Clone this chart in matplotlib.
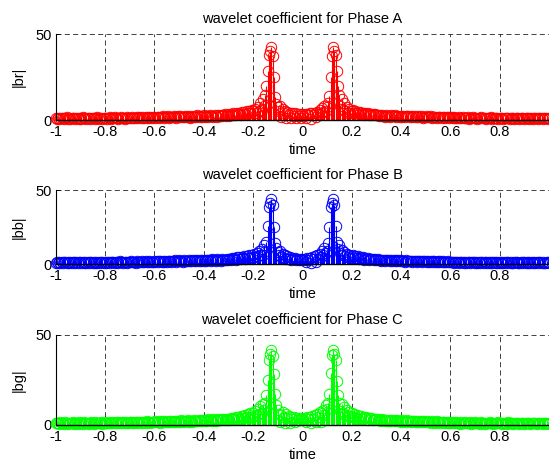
import numpy as np
import matplotlib
matplotlib.use("Agg")
import matplotlib.pyplot as plt

plt.rcParams["font.family"] = ["Liberation Sans", "DejaVu Sans"]
plt.rcParams["font.size"] = 10.5

# |coefficient| magnitudes, 401 samples over time -1 .. 1
mag_a = [
    1.3, 0.8, 1.1, 0.6, 1.4, 0.9, 1.2, 0.7, 1.0, 1.5, 0.8, 1.1, 0.6, 1.3, 0.9, 1.2, 0.7, 1.4, 1.0, 0.8,
    1.2, 0.6, 1.5, 0.9, 1.1, 0.7, 1.3, 1.0, 0.8, 1.4, 0.9, 1.2, 0.6, 1.1, 1.5, 0.8, 1.0, 1.3, 0.7, 1.2,
    0.9, 1.4, 0.8, 1.1, 1.6, 0.7, 1.2, 1.0, 1.5, 0.9, 1.3, 0.8, 1.1, 1.6, 1.0, 1.4, 0.8, 1.2, 1.7, 0.9,
    1.3, 1.1, 1.6, 0.9, 1.4, 1.2, 1.8, 1.0, 1.5, 1.2, 1.7, 1.0, 1.4, 1.9, 1.1, 1.6, 1.3, 1.8, 1.1, 1.5,
    1.9, 1.2, 1.7, 2.0, 1.3, 1.8, 1.5, 2.1, 1.2, 1.9, 1.6, 2.2, 1.4, 1.8, 2.0, 1.5, 2.3, 1.7, 1.3, 2.1,
    1.8, 2.4, 1.5, 2.0, 1.7, 2.5, 1.6, 2.2, 1.9, 1.4, 2.6, 2.0, 1.7, 2.3, 1.8, 2.7, 2.1, 1.6, 2.4, 2.0,
    2.8, 1.9, 2.5, 2.2, 1.7, 2.9, 2.3, 2.6, 2.0, 3.0, 2.4, 1.8, 2.8, 2.5, 3.1, 2.2, 2.7, 3.2, 2.4, 2.9,
    3.3, 2.6, 3.5, 2.9, 3.8, 3.1, 2.7, 4.0, 3.4, 4.2, 3.0, 4.5, 3.7, 4.8, 3.3, 5.0, 4.1, 5.4, 3.8, 5.8,
    5.5, 3.8, 6.5, 4.2, 7.5, 5.0, 9.8, 6.0, 12.5, 8.0, 14.8, 20.0, 28.7, 38.0, 40.3, 42.6, 37.2, 25.2, 13.5, 9.5,
    7.5, 5.2, 8.2, 1.5, 6.5, 3.8, 5.5, 1.2, 4.8, 2.9, 4.2, 0.9, 4.0, 2.6, 3.8, 1.1, 3.6, 2.5, 3.5, 1.4,
    3.4,
    2.6, 3.6, 1.2, 3.7, 2.9, 3.9, 0.8, 4.1, 3.1, 4.3, 1.5, 4.9, 3.3, 5.6, 3.9, 6.7, 4.6, 8.3, 5.4, 7.7,
    9.6, 13.8, 25.0, 37.5, 42.4, 40.0, 37.8, 28.2, 19.5, 14.5, 8.2, 12.2, 6.1, 9.6, 5.1, 7.3, 4.3, 6.4, 3.9, 5.4,
    5.6, 3.9, 5.2, 4.0, 4.7, 3.4, 4.6, 3.6, 4.3, 3.1, 4.1, 3.3, 3.9, 2.8, 3.6, 3.0, 3.7, 2.7, 3.4, 3.1,
    2.8, 2.4, 3.0, 2.2, 2.7, 2.5, 1.9, 2.9, 2.3, 2.6, 1.8, 2.8, 2.1, 2.4, 2.7, 1.9, 2.5, 2.2, 1.7, 2.6,
    2.0, 2.4, 1.6, 2.3, 2.1, 2.5, 1.7, 2.2, 1.9, 2.4, 1.5, 2.1, 2.0, 1.6, 2.3, 1.8, 2.1, 1.4, 2.0, 1.9,
    2.2, 1.5, 1.8, 2.1, 1.3, 1.9, 1.7, 2.0, 1.4, 1.8, 1.6, 2.0, 1.2, 1.7, 1.9, 1.3, 1.6, 1.8, 1.1, 1.7,
    1.5, 1.0, 1.7, 1.2, 1.4, 0.9, 1.6, 1.1, 1.3, 1.5, 0.9, 1.4, 1.2, 1.6, 0.8, 1.3, 1.1, 1.5, 1.0, 1.2,
    1.4, 0.8, 1.3, 1.0, 1.5, 0.9, 1.2, 1.4, 0.7, 1.1, 1.3, 1.0, 1.5, 0.8, 1.2, 0.9, 1.4, 1.1, 0.7, 1.3,
    1.0, 1.2, 0.8, 1.4, 0.9, 1.1, 1.3, 0.7, 1.2, 1.0, 1.4, 0.8, 1.1, 0.9, 1.3, 0.6, 1.2, 1.0, 1.4, 0.8,
    1.1, 0.9, 1.3, 0.7, 1.2, 1.0, 0.8, 1.3, 0.9, 1.1, 0.6, 1.2, 1.0, 1.4, 0.8, 1.1, 0.9, 1.2, 0.7, 1.3,
]

mag_b = [
    1.0, 1.4, 0.7, 1.2, 0.9, 1.5, 0.8, 1.1, 1.3, 0.6, 1.2, 1.0, 1.4, 0.7, 1.1, 1.5, 0.9, 1.2, 0.8, 1.3,
    1.1, 0.7, 1.4, 1.0, 1.2, 0.8, 1.5, 0.9, 1.3, 1.1, 0.7, 1.4, 1.0, 1.2, 0.9, 1.6, 0.8, 1.1, 1.3, 1.0,
    1.5, 0.9, 1.2, 1.4, 0.8, 1.6, 1.1, 1.3, 0.9, 1.5, 1.2, 1.0, 1.7, 1.1, 1.4, 0.9, 1.6, 1.2, 1.0, 1.5,
    1.3, 1.8, 1.1, 1.4, 1.6, 1.0, 1.7, 1.3, 1.5, 1.1, 1.9, 1.4, 1.2, 1.7, 1.5, 1.1, 1.8, 1.4, 1.6, 1.2,
    2.0, 1.5, 1.8, 1.3, 2.1, 1.7, 1.4, 2.2, 1.6, 1.9, 1.4, 2.3, 1.8, 2.0, 1.5, 2.2, 1.7, 2.4, 1.6, 1.9,
    2.5, 1.8, 2.1, 1.6, 2.6, 2.0, 2.3, 1.7, 2.5, 2.1, 1.8, 2.7, 2.2, 2.4, 1.9, 2.8, 2.1, 2.5, 2.0, 2.9,
    2.3, 2.6, 2.0, 3.0, 2.4, 2.7, 2.1, 3.1, 2.5, 2.8, 2.2, 3.2, 2.6, 2.9, 2.3, 3.3, 2.7, 3.0, 2.5, 3.4,
    2.8, 3.6, 3.0, 3.9, 3.2, 4.1, 2.9, 4.4, 3.5, 4.6, 3.3, 4.9, 3.8, 5.2, 3.6, 5.5, 4.2, 5.9, 4.0, 6.3,
    5.0, 6.8, 4.5, 7.6, 5.3, 8.5, 5.8, 10.2, 6.4, 12.8, 8.7, 14.6, 25.5, 38.5, 41.2, 44.0, 39.8, 25.2, 14.2, 10.5,
    8.0, 6.2, 8.8, 4.9, 6.9, 4.1, 5.8, 3.5, 5.1, 3.1, 4.6, 2.7, 4.2, 3.3, 3.9, 2.6, 3.7, 2.9, 3.5, 2.4,
    3.2,
    2.5, 3.6, 1.3, 3.8, 2.8, 4.3, 1.0, 4.7, 3.2, 5.2, 1.6, 5.9, 3.6, 7.0, 4.4, 8.6, 5.9, 10.8, 7.2, 9.0,
    14.0, 24.8, 38.2, 41.0, 43.8, 40.2, 26.0, 14.8, 10.2, 13.0, 7.4, 9.6, 6.0, 8.0, 5.2, 6.9, 4.6, 6.2, 4.1, 5.5,
    6.0, 3.9, 5.6, 4.2, 5.1, 3.5, 4.8, 3.8, 4.4, 3.0, 4.2, 3.4, 3.9, 2.7, 3.7, 3.1, 3.5, 2.6, 3.4, 2.9,
    3.2, 2.5, 2.9, 2.2, 3.0, 2.6, 2.0, 2.8, 2.4, 2.7, 1.9, 2.6, 2.3, 2.5, 1.8, 2.7, 2.2, 2.4, 1.7, 2.5,
    2.1, 2.3, 1.6, 2.4, 2.0, 2.2, 1.8, 2.3, 1.5, 2.1, 1.9, 2.2, 1.6, 2.0, 1.8, 2.1, 1.4, 1.9, 1.7, 2.0,
    1.5, 1.8, 1.6, 1.9, 1.3, 1.7, 1.8, 1.4, 1.6, 1.9, 1.2, 1.7, 1.5, 1.8, 1.3, 1.6, 1.4, 1.7, 1.2, 1.5,
    1.2, 1.6, 0.9, 1.4, 1.1, 1.5, 0.8, 1.3, 1.2, 1.6, 1.0, 1.4, 0.9, 1.2, 1.5, 0.8, 1.3, 1.1, 1.4, 0.9,
    1.2, 1.0, 1.5, 0.8, 1.3, 1.1, 0.9, 1.4, 1.2, 0.7, 1.3, 1.0, 1.2, 0.8, 1.4, 1.1, 0.9, 1.3, 1.0, 1.2,
    0.8, 1.4, 1.0, 1.1, 0.7, 1.3, 1.2, 0.9, 1.4, 1.0, 0.8, 1.2, 1.1, 1.3, 0.7, 1.0, 1.2, 0.9, 1.3, 1.1,
    0.8, 1.2, 1.0, 1.4, 0.9, 1.1, 0.7, 1.3, 1.0, 1.2, 0.8, 1.1, 1.3, 0.9, 1.2, 1.0, 0.7, 1.1, 1.2, 1.0,
]

mag_c = [
    0.9, 1.3, 1.1, 0.7, 1.5, 1.0, 1.2, 0.8, 1.4, 1.1, 0.6, 1.3, 0.9, 1.2, 1.5, 0.8, 1.1, 1.3, 0.7, 1.4,
    1.0, 1.2, 0.8, 1.5, 1.1, 0.9, 1.3, 0.7, 1.2, 1.4, 1.0, 0.8, 1.6, 1.1, 1.3, 0.9, 1.2, 1.5, 0.8, 1.4,
    1.1, 1.3, 0.9, 1.6, 1.2, 1.0, 1.5, 0.9, 1.3, 1.7, 1.1, 1.4, 1.0, 1.6, 1.2, 1.5, 0.9, 1.8, 1.3, 1.1,
    1.6, 1.4, 1.0, 1.7, 1.3, 1.5, 1.9, 1.2, 1.6, 1.4, 1.1, 1.8, 1.5, 1.3, 2.0, 1.4, 1.7, 1.2, 1.9, 1.6,
    1.4, 2.1, 1.7, 1.5, 2.0, 1.3, 2.2, 1.8, 1.6, 2.3, 1.5, 1.9, 2.1, 1.6, 2.4, 1.8, 2.0, 1.5, 2.5, 1.9,
    2.2, 1.7, 2.6, 2.0, 1.8, 2.4, 2.1, 2.7, 1.9, 2.3, 2.5, 1.8, 2.8, 2.2, 2.4, 2.0, 2.9, 2.3, 2.6, 2.1,
    3.0, 2.4, 2.7, 2.2, 3.1, 2.6, 2.8, 2.3, 3.2, 2.7, 2.5, 3.3, 2.9, 2.6, 3.4, 2.8, 3.1, 2.7, 3.5, 3.0,
    3.6, 2.9, 3.8, 3.3, 4.0, 3.1, 4.3, 3.6, 4.5, 3.4, 4.8, 3.9, 5.1, 3.7, 5.5, 4.3, 5.9, 4.1, 6.4, 4.7,
    6.9, 5.2, 7.8, 5.6, 8.8, 6.1, 10.5, 6.8, 11.8, 8.3, 12.5, 16.8, 24.8, 36.2, 39.4, 41.7, 38.5, 28.5, 17.0, 11.2,
    8.4, 6.3, 1.8, 5.7, 7.5, 4.6, 1.2, 6.0, 3.9, 5.2, 1.0, 4.6, 3.4, 4.3, 1.5, 3.9, 3.0, 4.1, 2.7, 3.7,
    3.3,
    2.8, 3.9, 1.4, 4.2, 3.1, 4.5, 1.1, 4.9, 3.6, 5.4, 1.7, 6.1, 4.2, 7.3, 1.9, 6.4, 8.2, 5.8, 11.0, 8.7,
    12.0, 17.4, 29.0, 38.8, 41.6, 39.6, 36.0, 24.5, 16.5, 12.3, 8.0, 11.4, 6.5, 10.0, 5.8, 8.5, 5.2, 7.4, 4.8, 6.6,
    4.5, 6.1, 4.0, 5.7, 3.6, 5.2, 4.1, 4.8, 3.3, 4.5, 3.8, 4.2, 3.0, 4.0, 3.5, 3.8, 2.8, 3.6, 3.2, 3.4,
    2.7, 3.2, 2.9, 2.4, 3.1, 2.6, 2.8, 2.2, 3.0, 2.5, 2.7, 2.1, 2.9, 2.4, 2.6, 2.0, 2.8, 2.3, 2.5, 1.9,
    2.7, 2.2, 2.4, 1.8, 2.6, 2.1, 2.3, 1.7, 2.5, 2.0, 2.2, 1.6, 2.4, 1.9, 2.1, 1.5, 2.3, 1.8, 2.0, 1.4,
    2.2, 1.7, 1.9, 1.3, 2.1, 1.6, 1.8, 1.2, 2.0, 1.5, 1.7, 1.3, 1.9, 1.4, 1.6, 1.1, 1.8, 1.3, 1.5, 1.0,
    1.7, 1.2, 1.4, 0.9, 1.6, 1.1, 1.3, 0.8, 1.5, 1.2, 1.0, 1.4, 0.9, 1.3, 1.1, 1.5, 0.8, 1.2, 1.0, 1.4,
    0.9, 1.3, 1.1, 0.7, 1.4, 1.0, 1.2, 0.8, 1.3, 1.1, 0.9, 1.5, 1.0, 1.2, 0.7, 1.3, 1.1, 0.9, 1.4, 1.0,
    1.2, 0.8, 1.3, 1.0, 1.1, 0.7, 1.4, 0.9, 1.2, 1.0, 0.8, 1.3, 1.1, 0.9, 1.2, 0.7, 1.3, 1.0, 1.1, 0.8,
    1.2, 0.9, 1.3, 1.0, 0.7, 1.2, 1.1, 0.9, 1.3, 0.8, 1.0, 1.2, 0.9, 1.1, 0.7, 1.3, 1.0, 1.2, 0.8, 1.1,
]

titles = ["wavelet coefficient for Phase A",
          "wavelet coefficient for Phase B",
          "wavelet coefficient for Phase C"]
ylabels = ["|br|", "|bb|", "|bg|"]
colors = ["#ff0000", "#0000ff", "#00ff00"]
xticks = [-1, -0.8, -0.6, -0.4, -0.2, 0, 0.2, 0.4, 0.6, 0.8]
xtick_labels = ["-1", "-0.8", "-0.6", "-0.4", "-0.2", "0", "0.2", "0.4", "0.6", "0.8"]

for m in (mag_a, mag_b, mag_c):
    assert len(m) == 401, len(m)

W, H = 549, 463
fig = plt.figure(figsize=(W / 100, H / 100), dpi=100)

# axes boxes in pixels: (top, bottom)
boxes = [(34, 120), (190, 264), (335, 425)]
left_px = 55.5

for (top, bottom), mag, title, ylab, col in zip(boxes, [mag_a, mag_b, mag_c], titles, ylabels, colors):
    ax = fig.add_axes([left_px / W, 1 - bottom / H, 1 - left_px / W, (bottom - top) / H])
    t = np.linspace(-1, 1, len(mag))
    markers, stems, base = ax.stem(t, mag, linefmt="-", markerfmt="o", basefmt="k-")
    stems.set_color(col)
    stems.set_linewidth(0.8)
    markers.set_markerfacecolor("none")
    markers.set_markeredgecolor(col)
    markers.set_markersize(7.5)
    markers.set_markeredgewidth(0.7)
    markers.set_clip_on(False)
    base.set_linewidth(1.0)
    base.set_clip_on(False)

    ax.set_xlim(-1, 1)
    ax.set_ylim(0, 50)
    ax.set_xticks(xticks)
    ax.set_xticklabels(xtick_labels)
    ax.set_yticks([0, 50])
    ax.tick_params(direction="in", length=3, width=0.6, pad=3.5, labelsize=10.5)
    ax.tick_params(axis="y", pad=2.5)

    ax.grid(True, linestyle=(0, (6, 4)), color="#222222", linewidth=0.6)
    ax.set_axisbelow(True)
    for side in ("top", "right", "bottom"):
        ax.spines[side].set_visible(False)
    ax.spines["left"].set_linewidth(0.8)

    ax.set_title(title, fontsize=10.5, pad=8)
    ax.set_xlabel("time", fontsize=10.5, labelpad=3)
    ax.set_ylabel(ylab, fontsize=10.5, labelpad=7)

fig.savefig("out.png", dpi=100)
